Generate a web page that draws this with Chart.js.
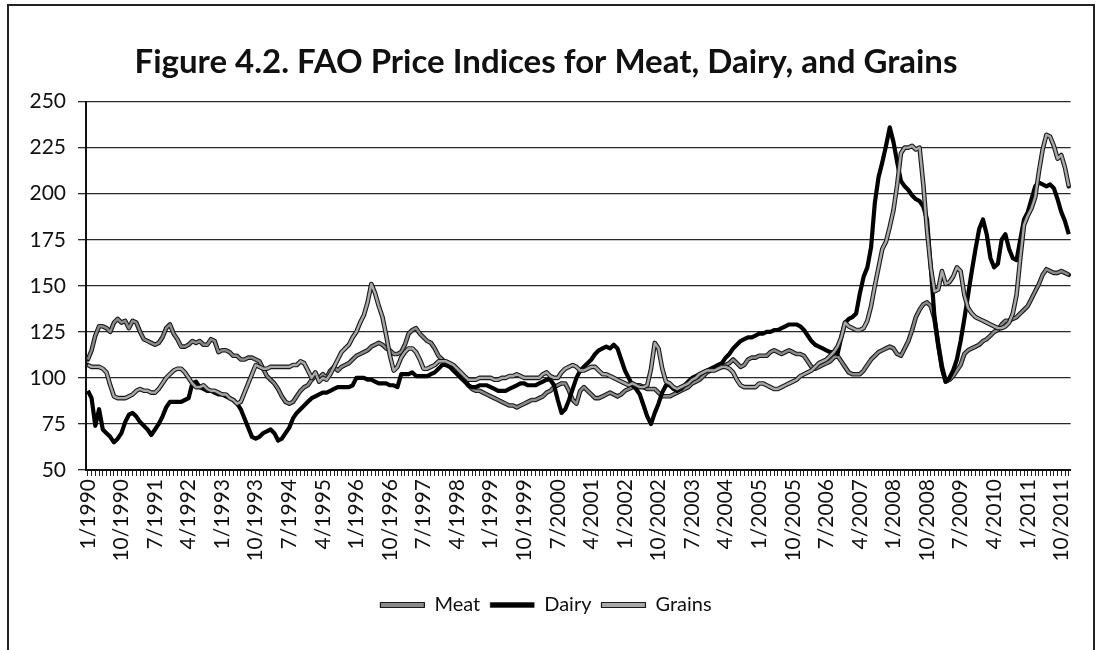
<!DOCTYPE html>
<html>
<head>
<meta charset="utf-8">
<script src="https://cdn.jsdelivr.net/npm/chart.js@4.4.1/dist/chart.umd.min.js"></script>
<style>
  html, body { margin: 0; padding: 0; background: #fff; overflow: hidden; }
  #frame { position: absolute; left: 7px; top: 4px; width: 1084px; height: 700px; border: 2px solid #222; border-bottom: none; }
  #wrap { position: absolute; left: 0; top: 0; width: 1097px; height: 650px; }
</style>
</head>
<body>
<div id="frame"></div>
<div id="wrap"><canvas id="chart"></canvas></div>
<script>
// Monthly FAO price indices, 1/1990 .. 12/2011 (one row per year)
const startYear = 1990
const endYear = 2011

const tickLabels = ['1/1990','10/1990','7/1991','4/1992','1/1993','10/1993','7/1994','4/1995','1/1996','10/1996',
  '7/1997','4/1998','1/1999','10/1999','7/2000','4/2001','1/2002','10/2002','7/2003','4/2004',
  '1/2005','10/2005','7/2006','4/2007','1/2008','10/2008','7/2009','4/2010','1/2011','10/2011']

const meat = [
  110,115,123,128,128,127,125,130,132,130,131,127,
  131,130,125,121,120,119,118,119,122,127,129,124,
  121,117,117,118,120,119,120,118,118,121,120,114,
  115,115,114,112,112,110,110,111,111,110,109,105,
  101,99,97,94,90,87,86,87,90,93,95,96,
  99,101,100,102,100,104,106,104,106,107,108,110,
  112,113,114,115,117,118,119,118,116,115,113,113,
  114,118,124,126,127,124,122,120,119,116,112,110,
  108,107,106,104,102,99,96,94,93,93,92,91,
  90,89,88,87,86,85,85,84,85,86,87,88,
  88,89,90,92,93,95,96,97,97,93,88,86,
  93,95,93,91,89,89,90,91,92,91,90,91,
  93,94,95,96,96,95,94,94,94,92,90,90,
  90,91,92,93,94,95,97,98,99,101,103,104,
  105,106,106,107,108,110,108,106,107,110,111,111,
  112,112,112,114,115,114,113,114,115,114,113,113,
  112,109,106,105,106,107,108,109,111,112,109,106,
  103,102,102,102,104,107,110,112,114,115,116,117,
  116,113,112,116,120,126,133,137,140,141,139,132,
  118,106,98,99,101,104,107,113,115,116,117,118,
  120,121,123,125,126,129,131,131,132,133,135,137,
  139,143,147,151,156,159,158,157,157,158,157,156
]

const dairy = [
  93,89,74,83,72,70,68,65,67,70,76,80,
  81,79,76,74,72,69,72,75,79,84,87,87,
  87,87,88,89,97,98,95,94,93,93,92,91,
  91,90,89,88,86,83,78,73,68,67,68,70,
  71,72,70,66,67,70,73,78,81,83,85,87,
  89,90,91,92,92,93,94,95,95,95,95,96,
  100,100,100,99,99,98,97,97,97,96,96,95,
  102,102,102,103,101,101,101,101,102,103,105,107,
  107,106,104,102,100,98,96,95,95,96,96,96,
  95,94,93,93,93,94,95,96,97,97,96,96,
  96,97,98,99,99,96,88,81,83,88,94,100,
  104,106,108,110,113,115,116,117,116,118,116,110,
  104,100,96,94,91,85,79,75,81,86,92,96,
  96,94,93,94,96,98,100,101,102,103,104,105,
  106,107,108,111,113,116,118,120,121,122,122,123,
  124,124,125,125,126,126,127,128,129,129,129,128,
  126,123,120,118,117,116,115,114,114,113,122,130,
  132,133,135,146,155,160,171,195,209,217,226,236,
  228,217,207,204,202,199,197,196,193,186,160,133,
  118,105,98,100,104,110,120,132,145,158,170,181,
  186,178,165,160,162,175,178,170,165,164,175,186,
  190,197,204,206,205,204,205,203,197,190,185,178
]

const grains = [
  107,106,106,106,105,103,96,90,89,89,89,90,
  91,93,94,93,93,92,92,94,97,100,102,104,
  105,105,103,100,97,95,95,96,94,93,93,92,
  91,91,89,88,86,87,92,97,102,107,106,105,
  105,106,106,106,106,106,106,107,107,109,108,104,
  100,103,98,100,99,102,106,110,114,116,118,122,
  125,130,134,141,151,146,139,133,123,112,104,106,
  111,114,116,116,114,110,105,105,106,107,109,109,
  109,108,107,105,103,101,99,99,99,100,100,100,
  100,99,99,100,100,101,101,102,101,100,100,100,
  100,100,102,103,101,100,100,103,105,106,107,106,
  104,104,105,106,106,104,102,102,101,100,99,98,
  97,96,97,96,95,95,96,105,119,116,105,98,
  97,95,94,95,96,97,99,100,102,103,104,104,
  104,105,106,106,105,103,99,96,95,95,95,95,
  97,97,96,95,94,94,95,96,97,98,99,101,
  102,103,104,106,108,109,110,112,114,117,122,130,
  128,127,126,126,127,131,139,150,160,170,174,182,
  191,205,222,225,225,226,224,225,205,180,160,147,
  148,158,151,152,155,160,158,145,138,135,133,132,
  131,130,129,128,127,127,128,130,135,145,165,183,
  188,192,198,212,224,232,231,226,219,221,214,204
]

const months = []
for (let y = startYear; y <= endYear; y++) {
  for (let m = 1; m <= 12; m++) months.push(m + '/' + y)
}

// gray series in the scan look like dark-edged lines: stroke a black line underneath
const outlinePlugin = {
  id: 'outline',
  beforeDatasetDraw(chart, args) {
    const ds = chart.data.datasets[args.index]
    if (!ds.outline) return
    const pts = args.meta.data
    const ctx = chart.ctx
    ctx.save()
    ctx.beginPath()
    pts.forEach((p, i) => { if (i) ctx.lineTo(p.x, p.y); else ctx.moveTo(p.x, p.y) })
    ctx.lineWidth = ds.borderWidth + 2.2
    ctx.strokeStyle = '#1a1a1a'
    ctx.lineJoin = 'round'
    ctx.lineCap = 'round'
    ctx.stroke()
    ctx.restore()
  }
}

const font = 'Lato'

new Chart(document.getElementById('chart'), {
  type: 'line',
  data: {
    labels: months,
    datasets: [
      { label: 'Meat', data: meat, borderColor: '#8a8a8a', backgroundColor: '#8a8a8a', borderWidth: 2.4, outline: true, order: 3 },
      { label: 'Dairy', data: dairy, borderColor: '#000', backgroundColor: '#000', borderWidth: 4.2, order: 2 },
      { label: 'Grains', data: grains, borderColor: '#a8a8a8', backgroundColor: '#a8a8a8', borderWidth: 2.4, outline: true, order: 1 }
    ]
  },
  options: {
    responsive: true,
    maintainAspectRatio: false,
    animation: false,
    elements: { point: { radius: 0 }, line: { tension: 0, borderJoinStyle: 'round' } },
    layout: { padding: { left: 10, right: 15, top: 0, bottom: 25 } },
    plugins: {
      title: {
        display: true,
        text: 'Figure 4.2. FAO Price Indices for Meat, Dairy, and Grains',
        color: '#111',
        font: { family: font, size: 33, weight: 'bold' },
        padding: { top: 43, bottom: 19 }
      },
      legend: {
        position: 'bottom',
        labels: {
          color: '#111',
          font: { family: font, size: 20 },
          boxWidth: 44,
          boxHeight: 5,
          padding: 10,
          sort: (a, b) => a.datasetIndex - b.datasetIndex,
          generateLabels(chart) {
            const items = Chart.defaults.plugins.legend.labels.generateLabels(chart)
            items.forEach(it => {
              const ds = chart.data.datasets[it.datasetIndex]
              it.strokeStyle = '#1a1a1a'
              it.lineWidth = ds.outline ? 1.2 : 0.5
            })
            return items
          }
        }
      },
      tooltip: { enabled: false }
    },
    scales: {
      x: {
        offset: true,
        afterFit: s => { s.height = 115 },
        grid: { display: true, drawOnChartArea: false, drawTicks: true, tickLength: 6, color: '#222', lineWidth: 1 },
        border: { display: true, color: '#111', width: 2 },
        ticks: {
          autoSkip: false,
          maxRotation: 90,
          minRotation: 90,
          padding: 3,
          color: '#111',
          font: { family: font, size: 21 },
          callback: (v, i) => tickLabels.includes(months[i]) ? months[i] : ''
        }
      },
      y: {
        min: 50,
        max: 250,
        afterFit: s => { s.width = 76 },
        grid: { color: '#2a2a2a', lineWidth: 1.3, tickLength: 8 },
        border: { display: true, color: '#111', width: 2 },
        ticks: { stepSize: 25, padding: 12, color: '#111', font: { family: font, size: 21 } }
      }
    }
  },
  plugins: [outlinePlugin]
})
</script>
</body>
</html>
